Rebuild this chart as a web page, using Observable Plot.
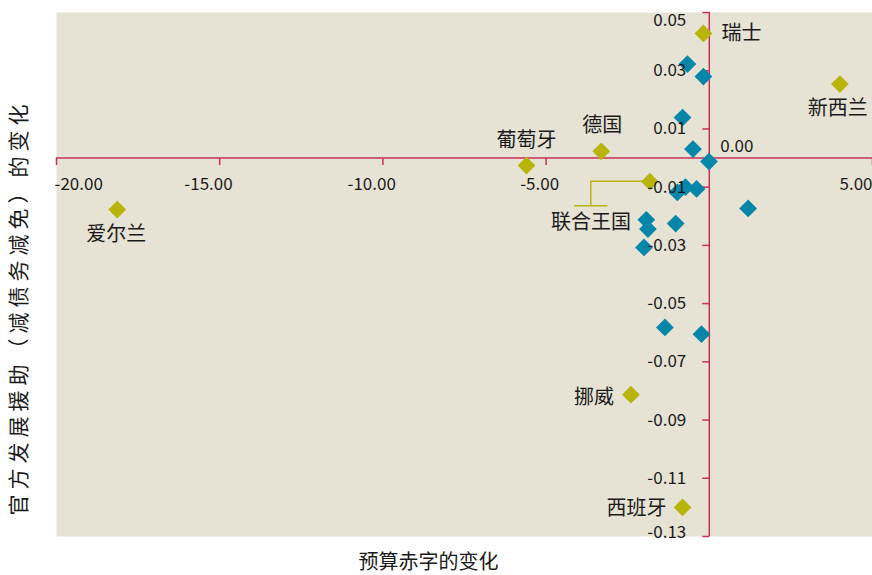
<!DOCTYPE html>
<html><head><meta charset="utf-8">
<script src="https://cdn.jsdelivr.net/npm/d3@7"></script>
<script src="https://cdn.jsdelivr.net/npm/@observablehq/plot@0.6"></script>
<style>
html,body{margin:0;padding:0;background:#fff;}
#chart{width:872px;height:575px;}
</style></head><body><div id="chart"></div>
<script>
// ---- data ----
const labeledNames = ["瑞士", "新西兰", "德国", "葡萄牙", "联合王国", "爱尔兰", "挪威", "西班牙"];
const labeledX = [-0.18, 4.00, -3.31, -5.60, -1.82, -18.14, -2.40, -0.82];
const labeledY = [0.0428, 0.0254, 0.0023, -0.0026, -0.0081, -0.0177, -0.0813, -0.1200];
const otherX = [-0.67, -0.18, -0.82, -0.50, -0.01, -0.98, -0.73, -0.39, 1.19, -1.93, -1.88, -1.03, -2.00, -1.36, -0.24];
const otherY = [0.0323, 0.0280, 0.0139, 0.0031, -0.0012, -0.0118, -0.0100, -0.0106, -0.0173, -0.0212, -0.0244, -0.0225, -0.0307, -0.0582, -0.0605];
const xTicks = [-20, -15, -10, -5, 5];
const xTickLabels = ["-20.00", "-15.00", "-10.00", "-5.00", "5.00"];
const yTicks = [0.05, 0.03, 0.01, -0.01, -0.03, -0.05, -0.07, -0.09, -0.11, -0.13];
const yTickLabels = ["0.05", "0.03", "0.01", "-0.01", "-0.03", "-0.05", "-0.07", "-0.09", "-0.11", "-0.13"];
const originLabel = "0.00";
const xTitle = "预算赤字的变化";
const yTitle = "官方发展援助（减债务减免）的变化";

// ---- styling ----
const BG = "#e6e3d4", AXIS = "#c8305a", OLIVE = "#b8b40a", BLUE = "#0686a8", INK = "#1a1a1a";
const FONT = "'Noto Sans CJK SC', 'Noto Sans', sans-serif";

const labeled = labeledNames.map((n, i) => ({name: n, x: labeledX[i], y: labeledY[i]}));
const others = otherX.map((x, i) => ({x, y: otherY[i]}));
const xt = xTicks.map((v, i) => ({v, label: xTickLabels[i]}));
const yt = yTicks.map((v, i) => ({v, label: yTickLabels[i]}));

// label placement (pixel offsets from marker)
const place = {
  "瑞士": {dx: 18, dy: 0, anchor: "start"},
  "新西兰": {dx: -2, dy: 24, anchor: "middle"},
  "德国": {dx: 1, dy: -26, anchor: "middle"},
  "葡萄牙": {dx: 0, dy: -25, anchor: "middle"},
  "联合王国": {dx: -59, dy: 41, anchor: "middle"},
  "爱尔兰": {dx: -1, dy: 25, anchor: "middle"},
  "挪威": {dx: -17, dy: 3, anchor: "end"},
  "西班牙": {dx: -16, dy: 1, anchor: "end"}
};

const tickDown = {draw(ctx) { ctx.moveTo(0, 0); ctx.lineTo(0, 7); }};
const tickLeft = {draw(ctx) { ctx.moveTo(-7, 0); ctx.lineTo(0, 0); }};

const labelMarks = labeled.map(d => Plot.text([d], {
  x: "x", y: "y", text: "name", dx: place[d.name].dx, dy: place[d.name].dy,
  textAnchor: place[d.name].anchor, fontSize: 20, fill: INK
}));

// leader line for 联合王国
const uk = labeled.find(d => d.name === "联合王国");
const leader = (index, scales) => {
  const px = scales.x(uk.x), py = scales.y(uk.y);
  const g = d3.create("svg:path")
    .attr("d", `M${px},${py}H${px - 58.6}V${py + 24.7}M${px - 75.3},${py + 24.7}H${px - 42}`)
    .attr("fill", "none").attr("stroke", OLIVE).attr("stroke-width", 1.5);
  return g.node();
};

const chart = Plot.plot({
  width: 872, height: 575,
  marginLeft: 56, marginRight: 0, marginTop: 12, marginBottom: 39,
  x: {domain: [-20, 5], axis: null},
  y: {domain: [-0.13, 0.05], axis: null},
  style: {fontFamily: FONT, background: "#fff", overflow: "visible"},
  marks: [
    Plot.frame({fill: BG, stroke: null}),
    Plot.ruleY([0], {stroke: AXIS, strokeWidth: 1.5}),
    Plot.ruleX([0], {stroke: AXIS, strokeWidth: 1.5}),
    Plot.dot(xt, {x: "v", y: 0, symbol: tickDown, stroke: AXIS, strokeWidth: 1.5, fill: "none"}),
    Plot.dot(yt, {x: 0, y: "v", symbol: tickLeft, stroke: AXIS, strokeWidth: 1.5, fill: "none"}),
    leader,
    Plot.dot(others, {x: "x", y: "y", symbol: "diamond2", r: 8, fill: BLUE}),
    Plot.dot(labeled, {x: "x", y: "y", symbol: "diamond2", r: 8, fill: OLIVE}),
    ...labelMarks,
    // y tick labels
    Plot.text(yt.slice(1, -1), {x: 0, y: "v", text: "label", textAnchor: "end", dx: -23, fontSize: 17, fill: INK}),
    Plot.text(yt.slice(0, 1), {x: 0, y: "v", text: "label", textAnchor: "end", dx: -23, lineAnchor: "top", dy: 1, fontSize: 17, fill: INK}),
    Plot.text(yt.slice(-1), {x: 0, y: "v", text: "label", textAnchor: "end", dx: -23, lineAnchor: "bottom", dy: 1, fontSize: 17, fill: INK}),
    // x tick labels
    Plot.text(xt.slice(0, 1), {x: "v", y: 0, text: "label", textAnchor: "start", dx: -2, dy: 26, fontSize: 17, fill: INK}),
    Plot.text(xt.slice(1, 4), {x: "v", y: 0, text: "label", textAnchor: "end", dx: 13, dy: 26, fontSize: 17, fill: INK}),
    Plot.text(xt.slice(4), {x: "v", y: 0, text: "label", textAnchor: "end", dx: 0, dy: 26, fontSize: 17, fill: INK}),
    Plot.text([originLabel], {x: 0, y: 0, text: d => d, textAnchor: "start", dx: 11, dy: -12, fontSize: 17, fill: INK}),
    // axis titles
    Plot.text([xTitle], {frameAnchor: "bottom", text: d => d, textAnchor: "middle", lineAnchor: "middle", dx: -36, dy: 26.5, fontSize: 20, fill: INK}),
    Plot.text([yTitle], {frameAnchor: "left", text: d => d, textAnchor: "middle", lineAnchor: "middle", rotate: -90, dx: -37, dy: 33, fontSize: 21, fill: INK})
  ]
});
// letter spacing for the vertical title
d3.select(chart).selectAll("text").filter(function() { return this.textContent === yTitle; })
  .style("letter-spacing", "5px");
document.getElementById("chart").appendChild(chart);
</script>
</body></html>
